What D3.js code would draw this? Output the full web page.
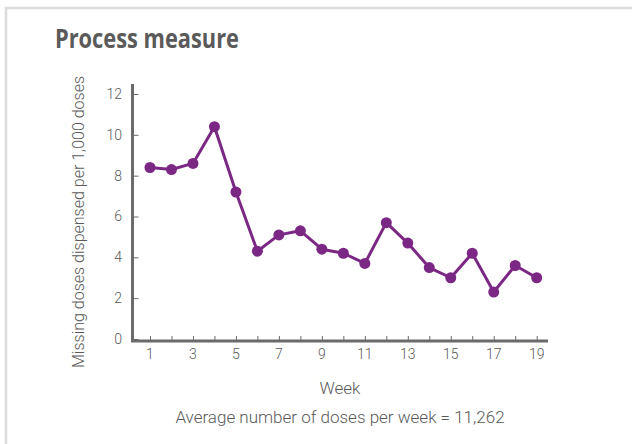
<!DOCTYPE html>
<html>
<head>
<meta charset="utf-8">
<script src="https://cdn.jsdelivr.net/npm/d3@7"></script>
<style>
  body { margin: 0; background: #fff; }
  svg { display: block; }
</style>
</head>
<body>
<div id="chart"></div>
<script>
// Data
const weeks = [1, 2, 3, 4, 5, 6, 7, 8, 9, 10, 11, 12, 13, 14, 15, 16, 17, 18, 19];
const missingDoses = [8.4, 8.3, 8.6, 10.4, 7.2, 4.3, 5.1, 5.3, 4.4, 4.2, 3.7, 5.7, 4.7, 3.5, 3.0, 4.2, 2.3, 3.6, 3.0];
const yTicks = [0, 2, 4, 6, 8, 10, 12];
const xLabelTicks = [1, 3, 5, 7, 9, 11, 13, 15, 17, 19];

const width = 632;
const height = 444;
const axisColor = "#6b6b6b";
const textColor = "#5a5a5a";
const lineColor = "#7b2884";
const font = "Roboto, sans-serif";

const svg = d3.select("#chart")
  .append("svg")
  .attr("width", width)
  .attr("height", height);

// panel frame (only top and left edges show)
svg.append("rect")
  .attr("x", 6)
  .attr("y", 8)
  .attr("width", width + 10)
  .attr("height", height + 10)
  .attr("fill", "#fff")
  .attr("stroke", "#dcdcdc")
  .attr("stroke-width", 2.5);

// Title
svg.append("text")
  .attr("x", 55)
  .attr("y", 48)
  .attr("font-family", "'Open Sans', sans-serif")
  .attr("font-weight", 700)
  .attr("font-size", "27px")
  .attr("textLength", 184)
  .attr("lengthAdjust", "spacingAndGlyphs")
  .attr("fill", textColor)
  .text("Process measure");

// Scales
const x = d3.scaleLinear().domain([1, 19]).range([150, 536.7]);
const y = d3.scaleLinear().domain([0, 12]).range([339, 94]);

const axisX0 = 132.5;
const axisY0 = 341;

// Y axis
const yAxis = svg.append("g")
  .attr("transform", `translate(${axisX0},0)`)
  .call(d3.axisRight(y).tickValues(yTicks).tickSize(6).tickFormat(""));
yAxis.select(".domain").remove();
yAxis.selectAll(".tick line").attr("stroke", axisColor).attr("stroke-width", 1);

svg.append("g")
  .selectAll("text")
  .data(yTicks)
  .join("text")
  .attr("x", 122)
  .attr("y", d => y(d))
  .attr("dy", "0.35em")
  .attr("text-anchor", "end")
  .attr("font-family", font)
  .attr("font-weight", 300)
  .attr("font-size", "14px")
  .attr("fill", textColor)
  .text(d => d);

// X axis
const xAxis = svg.append("g")
  .attr("transform", `translate(0,${axisY0})`)
  .call(d3.axisTop(x).tickValues(weeks).tickSize(5).tickFormat(""));
xAxis.select(".domain").remove();
xAxis.selectAll(".tick line").attr("stroke", axisColor).attr("stroke-width", 1);

svg.append("g")
  .selectAll("text")
  .data(xLabelTicks)
  .join("text")
  .attr("x", d => x(d))
  .attr("y", 359)
  .attr("text-anchor", "middle")
  .attr("font-family", font)
  .attr("font-weight", 300)
  .attr("font-size", "14px")
  .attr("fill", textColor)
  .text(d => d);

// axis lines
svg.append("path")
  .attr("d", `M${axisX0},84 V${axisY0} H548`)
  .attr("fill", "none")
  .attr("stroke", axisColor)
  .attr("stroke-width", 3);

// Line
const line = d3.line()
  .x((d, i) => x(weeks[i]))
  .y(d => y(d));

svg.append("path")
  .datum(missingDoses)
  .attr("d", line)
  .attr("fill", "none")
  .attr("stroke", lineColor)
  .attr("stroke-width", 3)
  .attr("stroke-linejoin", "round");

svg.append("g")
  .selectAll("circle")
  .data(missingDoses)
  .join("circle")
  .attr("cx", (d, i) => x(weeks[i]))
  .attr("cy", d => y(d))
  .attr("r", 5.5)
  .attr("fill", lineColor);

// Axis titles
svg.append("text")
  .attr("transform", "translate(84,222) rotate(-90)")
  .attr("text-anchor", "middle")
  .attr("font-family", font)
  .attr("font-weight", 300)
  .attr("font-size", "16px")
  .attr("fill", textColor)
  .text("Missing doses dispensed per 1,000 doses");

svg.append("text")
  .attr("x", 340)
  .attr("y", 394)
  .attr("text-anchor", "middle")
  .attr("font-family", font)
  .attr("font-weight", 300)
  .attr("font-size", "17px")
  .attr("fill", textColor)
  .text("Week");

svg.append("text")
  .attr("x", 340)
  .attr("y", 423)
  .attr("text-anchor", "middle")
  .attr("font-family", font)
  .attr("font-weight", 300)
  .attr("font-size", "17px")
  .attr("fill", textColor)
  .text("Average number of doses per week = 11,262");
</script>
</body>
</html>
